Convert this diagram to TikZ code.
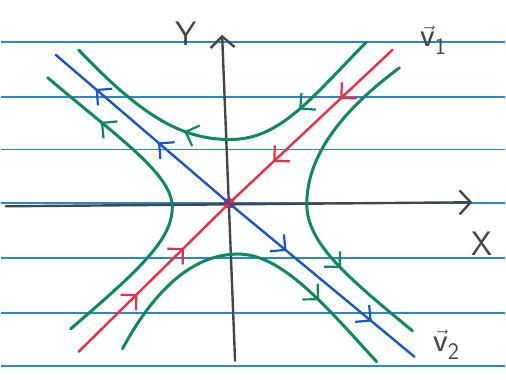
\documentclass[tikz,border=0pt]{standalone}
\usepackage{amsmath,amssymb}
\usepackage{xcolor}
\usepackage{tikz}
\usetikzlibrary{arrows.meta, decorations.markings}

\definecolor{ruleblue}{RGB}{40,135,205}
\definecolor{axisgray}{RGB}{70,70,70}
\definecolor{orbitgreen}{RGB}{15,135,95}
\definecolor{stablered}{RGB}{235,45,70}
\definecolor{unstableblue}{RGB}{25,85,195}
\definecolor{dotred}{RGB}{175,45,50}

\begin{document}
\begin{tikzpicture}[
  x=1pt, y=-1pt,
  chev/.tip={Straight Barb[length=11pt, width=22pt, line width=2.2pt]},
  rule/.style={draw=ruleblue, line width=1.8pt},
  axis/.style={color=axisgray, line width=2.4pt, line cap=round, -{Straight Barb[length=11pt, width=24pt]}},
  orbit/.style={color=orbitgreen, line width=3pt, line cap=round},
  eigen/.style={line width=2.4pt, line cap=round},
  flow/.style={postaction={decorate}, decoration={markings,
      mark=at position #1 with {\arrow{chev}}}},
  flowtwo/.style 2 args={postaction={decorate}, decoration={markings,
      mark=at position #1 with {\arrow{chev}},
      mark=at position #2 with {\arrow{chev}}}},
  lbl/.style={text=axisgray, font=\fontsize{34}{36}\selectfont\sffamily}
]
  % paper
  \fill[white] (0,0) rectangle (506,381);
  \foreach \y in {42,97,150,204,259,314,367}
    \draw[rule] (0,\y) -- (506,\y);

  % axes
  \coordinate (xstart) at (5,207);
  \coordinate (xend) at (473,203);
  \coordinate (ystart) at (235,362);
  \coordinate (yend) at (222,35);
  \draw[axis] (xstart) -- (xend);
  \draw[axis] (ystart) -- (yend);
  \node[lbl] (xlabel) at (483,245) {X};
  \node[lbl] (ylabel) at (186,34) {Y};

  % saddle point
  \node[circle, fill=dotred, minimum size=11pt, inner sep=0pt] (origin) at (229,204) {};

  % eigen directions
  \coordinate (v1top) at (393,50);
  \coordinate (v1bot) at (78,353);
  \coordinate (v2top) at (55,55);
  \coordinate (v2bot) at (415,358);
  \draw[eigen, color=stablered, flowtwo={0.32}{0.73}] (v1top) -- (origin.center);
  \draw[eigen, color=stablered, flowtwo={0.39}{0.70}] (v1bot) -- (origin.center);
  \draw[eigen, color=unstableblue, flowtwo={0.41}{0.77}] (origin.center) -- (v2top);
  \draw[eigen, color=unstableblue, flowtwo={0.31}{0.77}] (origin.center) -- (v2bot);
  \node[lbl] (v1label) at (434,40) {$\vec{\textsf{v}}_{\textsf{1}}$};
  \node[lbl] (v2label) at (447,346) {$\vec{\textsf{v}}_{\textsf{2}}$};

  % trajectories
  \draw[orbit, flowtwo={0.27}{0.62}] (367,42) .. controls (310,100) and (280,140) .. (230,140)
    .. controls (180,140) and (140,115) .. (78,50);
  \draw[orbit, flow=0.8] (70,330) .. controls (140,270) and (172,240) .. (172,208)
    .. controls (172,175) and (120,140) .. (47,78);
  \draw[orbit, flow=0.72] (400,68) .. controls (330,120) and (307,165) .. (307,205)
    .. controls (307,245) and (350,280) .. (413,332);
  \draw[orbit, flow=0.75] (122,350) .. controls (160,280) and (200,255) .. (238,255)
    .. controls (280,255) and (320,300) .. (377,363);
\end{tikzpicture}
\end{document}
